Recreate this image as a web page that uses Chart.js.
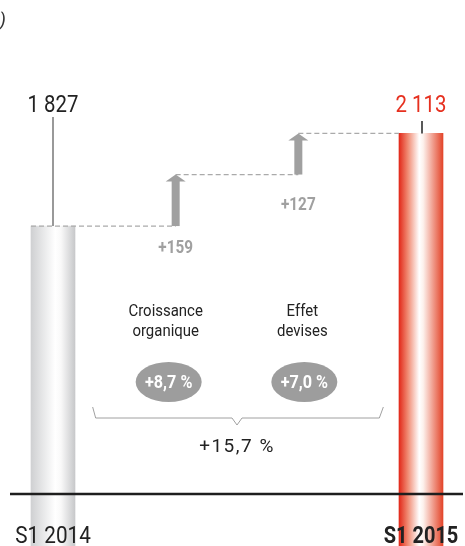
<!DOCTYPE html>
<html>
<head>
<meta charset="utf-8">
<script src="https://cdn.jsdelivr.net/npm/chart.js@4.4.1/dist/chart.umd.min.js"></script>
<style>
  html, body { margin: 0; padding: 0; background: #fff; }
  canvas { display: block; }
</style>
</head>
<body>
<canvas id="chart" width="465" height="546"></canvas>
<script>
// Sales bridge, H1 2014 -> H1 2015 (millions)
const categories = ["S1 2014", "Croissance organique", "Effet devises", "S1 2015"]
const totals = [1827, null, null, 2113]
const steps = [null, 159, 127, null]
const stepRates = [null, 8.7, 7.0, null]
const totalRate = 15.7

const face = "Roboto, 'Liberation Sans', sans-serif"
const grey = "#a0a0a0"
const barWidth = 44

const grayStops = [[0, "#cfd0d2"], [0.55, "#ffffff"], [0.68, "#f9f9f9"], [1, "#c7c8ca"]]
const redStops = [[0, "#e2291a"], [0.2, "#f08a72"], [0.46, "#ffffff"], [0.55, "#fdf1ec"], [1, "#e3452a"]]

const frNumber = (v) => String(v).replace(/\B(?=(\d{3})+(?!\d))/g, " ")
const frRate = (v) => "+" + v.toFixed(1).replace(".", ",") + " %"

// Roboto is wider than the condensed face, so squeeze it horizontally
const squeezeText = (ctx, text, x, y, sx) => {
  ctx.save()
  ctx.translate(x, y)
  ctx.scale(sx, 1)
  ctx.fillText(text, 0, 0)
  ctx.restore()
}

const barFill = (c) => {
  const chart = c.chart
  if (!chart.chartArea) return "#cccccc"
  const x = chart.scales.x.getPixelForValue(c.dataIndex)
  const g = chart.ctx.createLinearGradient(x - barWidth / 2, 0, x + barWidth / 2, 0)
  const stops = c.dataIndex === totals.length - 1 ? redStops : grayStops
  stops.forEach(([p, col]) => g.addColorStop(p, col))
  return g
}

const bridge = {
  id: "bridge",
  afterDatasetsDraw(chart) {
    const { ctx, scales: { x, y } } = chart
    const last = totals.length - 1
    ctx.save()

    // dashed level lines between the steps
    ctx.strokeStyle = "#aaaaaa"
    ctx.lineWidth = 1.2
    ctx.setLineDash([5, 3])
    let level = totals[0]
    let fromX = x.getPixelForValue(0) - barWidth / 2
    const arrows = []
    steps.forEach((s, i) => {
      if (s == null) return
      const px = x.getPixelForValue(i)
      ctx.beginPath()
      ctx.moveTo(fromX, y.getPixelForValue(level))
      ctx.lineTo(px, y.getPixelForValue(level))
      ctx.stroke()
      arrows.push({ i, px, from: level, to: level + s })
      level += s
      fromX = px
    })
    ctx.beginPath()
    ctx.moveTo(fromX, y.getPixelForValue(level))
    ctx.lineTo(x.getPixelForValue(last) - barWidth / 2, y.getPixelForValue(level))
    ctx.stroke()
    ctx.setLineDash([])

    // step arrows and their labels
    const labelDrop = [22, 31]
    const textShift = [-10, 4]
    const pillShift = [-7, 6]
    arrows.forEach((a, k) => {
      const yb = y.getPixelForValue(a.from)
      const yt = y.getPixelForValue(a.to)
      ctx.fillStyle = grey
      ctx.fillRect(a.px - 4, yt + 6, 8, yb - yt - 6)
      ctx.beginPath()
      ctx.moveTo(a.px - 10, yt + 7)
      ctx.lineTo(a.px, yt)
      ctx.lineTo(a.px + 10, yt + 7)
      ctx.closePath()
      ctx.fill()

      ctx.textAlign = "center"
      ctx.textBaseline = "middle"
      ctx.font = "bold 18px " + face
      squeezeText(ctx, "+" + steps[a.i], a.px, yb + labelDrop[k], 0.85)

      // category caption, two lines
      ctx.fillStyle = "#222222"
      ctx.font = "17px " + face
      const words = categories[a.i].split(" ")
      squeezeText(ctx, words[0], a.px + textShift[k], 312, 0.88)
      squeezeText(ctx, words.slice(1).join(" "), a.px + textShift[k], 332, 0.88)

      // rate pill
      ctx.fillStyle = "#9d9d9d"
      ctx.beginPath()
      ctx.ellipse(a.px + pillShift[k], 382, 33, 20, 0, 0, Math.PI * 2)
      ctx.fill()
      ctx.fillStyle = "#ffffff"
      ctx.font = "bold 18px " + face
      squeezeText(ctx, frRate(stepRates[a.i]), a.px + pillShift[k], 383, 0.9)
    })

    // bracket spanning both steps
    const bl = arrows[0].px - 83
    const br = arrows[arrows.length - 1].px + 85
    const bm = (arrows[0].px + arrows[arrows.length - 1].px) / 2
    ctx.strokeStyle = grey
    ctx.lineWidth = 1
    ctx.beginPath()
    ctx.moveTo(bl, 407)
    ctx.lineTo(bl + 3, 418)
    ctx.lineTo(bm - 5, 418)
    ctx.lineTo(bm, 425)
    ctx.lineTo(bm + 5, 418)
    ctx.lineTo(br - 4, 418)
    ctx.lineTo(br, 407)
    ctx.stroke()

    ctx.fillStyle = "#222222"
    ctx.font = "19px " + face
    ctx.letterSpacing = "1.5px"
    ctx.textAlign = "center"
    ctx.textBaseline = "middle"
    ctx.fillText(frRate(totalRate), bm, 447)
    ctx.letterSpacing = "0px"

    // totals: value, leader line
    const x0 = x.getPixelForValue(0)
    const x3 = x.getPixelForValue(last)
    ctx.textBaseline = "alphabetic"
    ctx.font = "24px " + face
    ctx.fillStyle = "#222222"
    squeezeText(ctx, frNumber(totals[0]), x0, 112, 0.85)
    ctx.fillStyle = "#e6301f"
    squeezeText(ctx, frNumber(totals[last]), x3, 112, 0.85)

    ctx.lineWidth = 1.5
    ctx.strokeStyle = "#777777"
    ctx.beginPath()
    ctx.moveTo(x0, 117)
    ctx.lineTo(x0, y.getPixelForValue(totals[0]))
    ctx.stroke()
    ctx.strokeStyle = "#222222"
    ctx.beginPath()
    ctx.moveTo(x3 + 1, 121)
    ctx.lineTo(x3 + 1, y.getPixelForValue(totals[last]))
    ctx.stroke()

    // baseline
    const yb = y.getPixelForValue(y.min)
    ctx.strokeStyle = "#1e1e1e"
    ctx.lineWidth = 2.5
    ctx.beginPath()
    ctx.moveTo(10, yb)
    ctx.lineTo(463, yb)
    ctx.stroke()

    // period labels
    ctx.fillStyle = "#222222"
    ctx.font = "23px " + face
    squeezeText(ctx, categories[0], x0, 543, 0.9)
    ctx.font = "bold 23px " + face
    squeezeText(ctx, categories[last], x3, 543, 0.87)

    // tail of the unit note, top left
    ctx.font = "italic 19px " + face
    ctx.textAlign = "right"
    ctx.fillStyle = "#333333"
    ctx.fillText(")", 6, 26)

    ctx.restore()
  },
}

new Chart(document.getElementById("chart"), {
  type: "bar",
  data: {
    labels: categories,
    datasets: [
      {
        data: totals,
        backgroundColor: barFill,
        borderWidth: 0,
        barThickness: barWidth,
        clip: false,
      },
    ],
  },
  options: {
    responsive: false,
    animation: false,
    devicePixelRatio: 1,
    events: [],
    layout: { padding: { left: 53, right: 44, top: 8, bottom: 52 } },
    scales: {
      x: { display: false, offset: false },
      y: { display: false, min: 1000, max: 2500 },
    },
    plugins: {
      legend: { display: false },
      tooltip: { enabled: false },
    },
  },
  plugins: [bridge],
})
</script>
</body>
</html>
